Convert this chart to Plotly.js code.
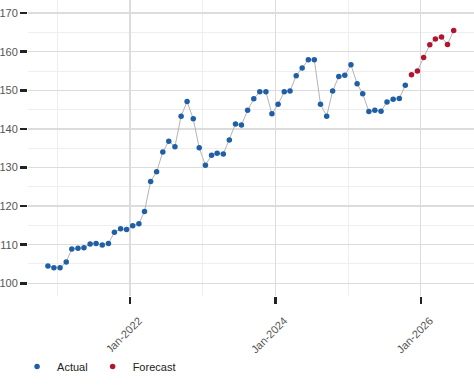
<!DOCTYPE html>
<html>
<head>
<meta charset="utf-8">
<script src="https://cdn.plot.ly/plotly-3.0.1.min.js"></script>
<style>html,body{margin:0;padding:0;background:#fff;}#chart{width:474px;height:390px;}</style>
</head>
<body>
<div id="chart"></div>
<script>
const actualDates = [
  "2020-11-15","2020-12-15",
  "2021-01-15","2021-02-15","2021-03-15","2021-04-15","2021-05-15","2021-06-15","2021-07-15","2021-08-15","2021-09-15","2021-10-15","2021-11-15","2021-12-15",
  "2022-01-15","2022-02-15","2022-03-15","2022-04-15","2022-05-15","2022-06-15","2022-07-15","2022-08-15","2022-09-15","2022-10-15","2022-11-15","2022-12-15",
  "2023-01-15","2023-02-15","2023-03-15","2023-04-15","2023-05-15","2023-06-15","2023-07-15","2023-08-15","2023-09-15","2023-10-15","2023-11-15","2023-12-15",
  "2024-01-15","2024-02-15","2024-03-15","2024-04-15","2024-05-15","2024-06-15","2024-07-15","2024-08-15","2024-09-15","2024-10-15","2024-11-15","2024-12-15",
  "2025-01-15","2025-02-15","2025-03-15","2025-04-15","2025-05-15","2025-06-15","2025-07-15","2025-08-15","2025-09-15","2025-10-15"
];
const actualValues = [
  104.5,104.0,
  104.0,105.5,108.9,109.1,109.2,110.2,110.3,109.9,110.3,113.2,114.1,113.9,
  114.9,115.4,118.6,126.4,128.9,134.0,136.8,135.4,143.3,147.1,142.6,135.1,
  130.6,133.2,133.7,133.5,137.1,141.3,141.0,144.8,147.8,149.6,149.6,143.9,
  146.4,149.6,149.8,153.8,155.8,157.9,157.9,146.4,143.3,149.8,153.6,153.9,
  156.6,151.7,149.1,144.5,144.8,144.6,147.0,147.7,147.9,151.3
];
const forecastDates = ["2025-11-15","2025-12-15","2026-01-15","2026-02-15","2026-03-15","2026-04-15","2026-05-15","2026-06-15"];
const forecastValues = [154.0,155.0,158.5,161.8,163.3,163.8,161.9,165.5];
const seriesNames = ["Actual","Forecast"];

const lineColor = "#b4b4b4";
const colors = ["#1f5fa6", "#b3142d"];
const traces = [
  {x: actualDates, y: actualValues, type: "scatter", mode: "lines", showlegend: false, hoverinfo: "skip",
   line: {color: lineColor, width: 1}},
  {x: forecastDates, y: forecastValues, type: "scatter", mode: "lines", showlegend: false, hoverinfo: "skip",
   line: {color: lineColor, width: 1}},
  {x: actualDates, y: actualValues, name: seriesNames[0], type: "scatter", mode: "markers",
   marker: {color: colors[0], size: 5.5}},
  {x: forecastDates, y: forecastValues, name: seriesNames[1], type: "scatter", mode: "markers",
   marker: {color: colors[1], size: 5.5}}
];

const layout = {
  width: 474, height: 390,
  margin: {l: 28, r: 0, t: 0, b: 94},
  paper_bgcolor: "#fff", plot_bgcolor: "#fff",
  font: {family: "Liberation Sans, Arial, sans-serif", size: 11, color: "#555"},
  showlegend: true,
  legend: {orientation: "h", xref: "container", yref: "container", x: 0.036, y: 0.06, yanchor: "middle", xanchor: "left",
           font: {size: 11, color: "#222"}, itemsizing: "trace", traceorder: "normal"},
  xaxis: {
    type: "date", range: ["2020-08-07", "2026-09-25"],
    tick0: "2022-01-01", dtick: "M24", tickformat: "%b-%Y", tickangle: -45,
    ticks: "outside", ticklen: 7, tickwidth: 2.5, tickcolor: "#222",
    ticklabelshift: 9, ticklabelstandoff: 6,
    showgrid: true, gridcolor: "#dcdcdc", gridwidth: 1.3,
    minor: {dtick: "M12", tick0: "2021-01-01", showgrid: true, gridcolor: "#eeeeee", gridwidth: 1, ticks: ""},
    showline: false, zeroline: false, tickfont: {size: 11, color: "#555"}
  },
  yaxis: {
    range: [96.7, 173.4], dtick: 10, tick0: 100,
    ticks: "outside", ticklen: 7, tickwidth: 2.5, tickcolor: "#222",
    showgrid: true, gridcolor: "#dcdcdc", gridwidth: 1.3,
    minor: {dtick: 5, showgrid: true, gridcolor: "#eeeeee", gridwidth: 1, ticks: ""},
    showline: false, zeroline: false, tickfont: {size: 11, color: "#555"}
  }
};

Plotly.newPlot("chart", traces, layout, {displayModeBar: false, staticPlot: true});
</script>
</body>
</html>
